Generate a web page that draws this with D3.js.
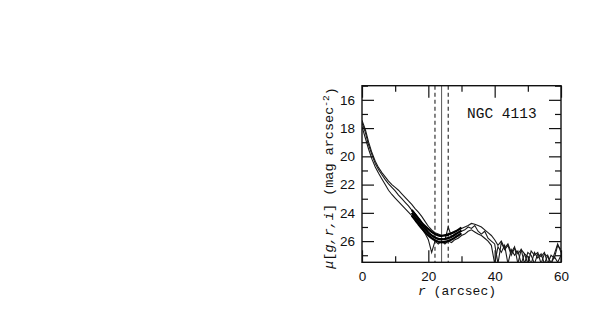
<!DOCTYPE html>
<html>
<head>
<meta charset="utf-8">
<script src="https://cdn.jsdelivr.net/npm/d3@7"></script>
<style>
  body { margin: 0; background: #fff; }
  .tick line { stroke: #111; stroke-width: 1.2; }
  .domain { display: none; }
</style>
</head>
<body>
<div id="chart"></div>
<script>
// radius grid (arcsec)
const radius = d3.range(0, 61);

// three band profiles (mag arcsec^-2)
const profileA = [17.45, 18.1, 19.0, 19.75, 20.35, 20.8, 21.15, 21.45, 21.75, 22.0,
  22.2, 22.4, 22.65, 22.9, 23.15, 23.4, 23.7, 23.95, 24.25, 24.6,
  24.95, 25.2, 25.4, 25.5, 25.6, 25.55, 25.5, 25.4, 25.3, 25.2,
  25.1, 25.0, 24.9, 24.75, 24.8, 24.9, 25.0, 25.2, 25.4, 25.6,
  25.9, 26.3, 26.0, 26.5, 26.2, 26.8, 26.4, 27.6, 26.6, 26.9,
  27.6, 26.7, 27.0, 26.8, 27.6, 26.9, 27.1, 27.6, 26.9, 26.2, 26.8];
const profileB = [17.6, 18.3, 19.2, 19.9, 20.5, 20.95, 21.3, 21.65, 21.95, 22.2,
  22.45, 22.75, 23.0, 23.25, 23.5, 23.8, 24.05, 24.35, 24.7, 25.0,
  25.4, 25.6, 25.7, 25.85, 25.8, 25.9, 25.0, 25.7, 25.5, 25.4,
  25.3, 25.2, 25.0, 25.1, 24.9, 25.3, 25.5, 25.3, 25.8, 26.0,
  26.2, 27.6, 26.1, 26.6, 26.3, 27.0, 26.5, 26.9, 26.6, 27.6,
  26.8, 27.0, 27.6, 26.9, 27.1, 26.8, 27.6, 27.0, 27.2, 26.3, 26.6];
const profileC = [17.9, 18.7, 19.5, 20.2, 20.75, 21.2, 21.6, 22.0, 22.4, 22.7,
  22.95, 23.2, 23.45, 23.7, 23.95, 24.2, 24.5, 24.8, 25.1, 25.45,
  25.9, 26.8, 26.0, 26.2, 26.0, 26.2, 26.0, 26.1, 25.9, 25.8,
  25.6, 25.5, 25.3, 25.2, 25.35, 25.5, 25.6, 25.8, 26.0, 26.3,
  27.6, 26.4, 26.8, 26.3, 27.6, 26.6, 27.0, 26.7, 27.6, 26.9,
  27.1, 27.6, 26.8, 27.2, 26.9, 27.6, 27.0, 27.6, 27.1, 27.5, 27.0];

// fitted curves over the fit range
const fitRadius = d3.range(15, 31);
const fitA = [23.8, 24.1, 24.4, 24.7, 24.95, 25.15, 25.35, 25.5, 25.6, 25.65, 25.6, 25.55, 25.45, 25.35, 25.2, 25.05];
const fitB = [24.0, 24.3, 24.6, 24.9, 25.15, 25.4, 25.6, 25.75, 25.85, 25.9, 25.85, 25.8, 25.7, 25.55, 25.4, 25.25];
const fitC = [24.2, 24.5, 24.8, 25.1, 25.35, 25.6, 25.8, 25.95, 26.05, 26.1, 26.05, 26.0, 25.9, 25.75, 25.6, 25.45];

// vertical markers
const solidLines = [24];
const dashedLines = [22, 26];

const xMajor = [0, 20, 40, 60];
const xMinor = [10, 30, 50];
const yMajor = [16, 18, 20, 22, 24, 26];
const yMinor = [15, 17, 19, 21, 23, 25, 27];

const width = 598, height = 318;
const margin = { top: 85.7, right: 37, bottom: 55.7, left: 362 };

const svg = d3.select("#chart").append("svg")
  .attr("width", width)
  .attr("height", height);

const x = d3.scaleLinear()
  .domain([0, 60])
  .range([margin.left, width - margin.right]);

const y = d3.scaleLinear()
  .domain([15, 27.5])
  .range([margin.top, height - margin.bottom]);

svg.append("clipPath").attr("id", "plot")
  .append("rect")
  .attr("x", x(0)).attr("y", y(15))
  .attr("width", x(60) - x(0)).attr("height", y(27.5) - y(15));

const plot = svg.append("g").attr("clip-path", "url(#plot)");

const line = d3.line()
  .x(d => x(d[0]))
  .y(d => y(d[1]));

const smooth = d3.line()
  .x(d => x(d[0]))
  .y(d => y(d[1]))
  .curve(d3.curveBasis);

// vertical marker lines
plot.selectAll(".vsolid").data(solidLines).enter().append("line")
  .attr("x1", d => x(d)).attr("x2", d => x(d))
  .attr("y1", y(15)).attr("y2", y(27.5))
  .attr("stroke", "#555").attr("stroke-width", 1);
plot.selectAll(".vdash").data(dashedLines).enter().append("line")
  .attr("x1", d => x(d)).attr("x2", d => x(d))
  .attr("y1", y(15)).attr("y2", y(27.5))
  .attr("stroke", "#333").attr("stroke-width", 1.2)
  .attr("stroke-dasharray", "4,3");

// profiles
[profileA, profileB, profileC].forEach(p => {
  plot.append("path")
    .datum(radius.map((r, i) => [r, p[i]]))
    .attr("d", line)
    .attr("fill", "none")
    .attr("stroke", "#1a1a1a")
    .attr("stroke-width", 1.1);
});

// fits
[fitA, fitB, fitC].forEach(f => {
  plot.append("path")
    .datum(fitRadius.map((r, i) => [r, f[i]]))
    .attr("d", smooth)
    .attr("fill", "none")
    .attr("stroke", "#000")
    .attr("stroke-width", 2.2);
});

// axes, ticks pointing inward on all sides
function noLabel(g) { g.selectAll("text").remove(); }

svg.append("g")
  .attr("transform", `translate(0,${y(27.5)})`)
  .call(d3.axisBottom(x).tickValues(xMajor).tickSize(-12).tickPadding(9))
  .attr("font-family", "Liberation Sans, Arial, sans-serif")
  .attr("font-size", "13.5px");
svg.append("g")
  .attr("transform", `translate(0,${y(27.5)})`)
  .call(d3.axisBottom(x).tickValues(xMinor).tickSize(-6)).call(noLabel);
svg.append("g")
  .attr("transform", `translate(0,${y(15)})`)
  .call(d3.axisTop(x).tickValues(xMajor).tickSize(-12)).call(noLabel);
svg.append("g")
  .attr("transform", `translate(0,${y(15)})`)
  .call(d3.axisTop(x).tickValues(xMinor).tickSize(-6)).call(noLabel);

svg.append("g")
  .attr("transform", `translate(${x(0)},0)`)
  .call(d3.axisLeft(y).tickValues(yMajor).tickSize(-12).tickPadding(7))
  .attr("font-family", "Liberation Sans, Arial, sans-serif")
  .attr("font-size", "13.5px");
svg.append("g")
  .attr("transform", `translate(${x(0)},0)`)
  .call(d3.axisLeft(y).tickValues(yMinor).tickSize(-6)).call(noLabel);
svg.append("g")
  .attr("transform", `translate(${x(60)},0)`)
  .call(d3.axisRight(y).tickValues(yMajor).tickSize(-12)).call(noLabel);
svg.append("g")
  .attr("transform", `translate(${x(60)},0)`)
  .call(d3.axisRight(y).tickValues(yMinor).tickSize(-6)).call(noLabel);

svg.selectAll(".tick text").attr("fill", "#111");

// frame
svg.append("rect")
  .attr("x", x(0)).attr("y", y(15))
  .attr("width", x(60) - x(0)).attr("height", y(27.5) - y(15))
  .attr("fill", "none").attr("stroke", "#111").attr("stroke-width", 1.4);

// labels
const mono = "Liberation Mono, Courier New, monospace";

svg.append("text")
  .attr("x", 467).attr("y", 118)
  .attr("font-family", mono).attr("font-size", "14.5px")
  .attr("fill", "#111")
  .text("NGC 4113");

const xl = svg.append("text")
  .attr("x", 457).attr("y", 295)
  .attr("text-anchor", "middle")
  .attr("font-family", mono).attr("font-size", "13px")
  .attr("fill", "#111");
xl.append("tspan").attr("font-style", "italic").text("r");
xl.append("tspan").text(" (arcsec)");

const yl = svg.append("text")
  .attr("transform", `translate(333,${178}) rotate(-90)`)
  .attr("text-anchor", "middle")
  .attr("font-family", mono).attr("font-size", "13.5px")
  .attr("fill", "#111");
yl.append("tspan").attr("font-style", "italic").text("μ");
yl.append("tspan").text("[");
yl.append("tspan").attr("font-style", "italic").text("g,r,i");
yl.append("tspan").text("] (mag arcsec");
yl.append("tspan").attr("dy", "-0.45em").attr("font-size", "9.5px").text("-2");
yl.append("tspan").attr("dy", "0.45em").text(")");
</script>
</body>
</html>
